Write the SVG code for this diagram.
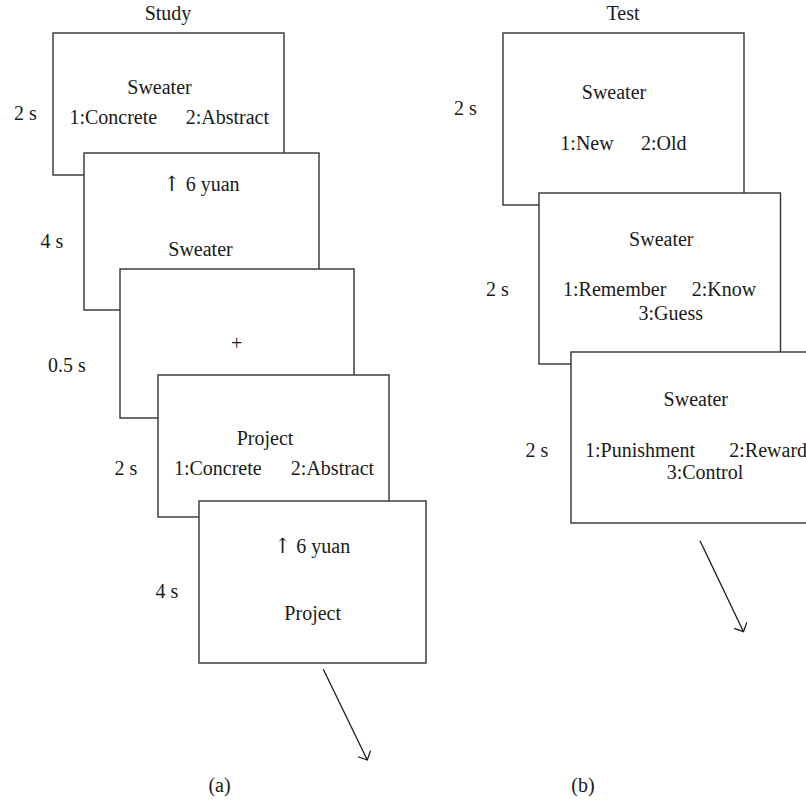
<svg xmlns="http://www.w3.org/2000/svg" width="806" height="801" viewBox="0 0 806 801">
<defs>
<style>
text{font-family:"Liberation Serif","Times New Roman",serif;font-size:20px;fill:#1a1a1a;text-anchor:middle}
.s{text-anchor:start}
.up{font-family:"DejaVu Serif","DejaVu Sans",serif;font-size:21px}
.box{fill:#fff;stroke:#333;stroke-width:1.4}
.arr{fill:none;stroke:#1a1a1a;stroke-width:1.3}
</style>
<marker id="open" markerUnits="userSpaceOnUse" markerWidth="20" markerHeight="20" refX="0" refY="0" viewBox="-10 -10 20 20" orient="auto">
<path d="M-7,-7 L0,0 L-7,7" fill="none" stroke="#1a1a1a" stroke-width="1.3"/>
</marker>
</defs>
<rect width="806" height="801" fill="#fff"/>
<g id="study">
<text x="168" y="20">Study</text>
<g id="s1">
<rect class="box" x="53" y="33" width="231" height="142"/>
<text x="159.5" y="94">Sweater</text>
<text x="113.3" y="124">1:Concrete</text>
<text x="227.3" y="124">2:Abstract</text>
<text x="25.3" y="120">2 s</text>
</g>
<g id="s2">
<rect class="box" x="84" y="153" width="235" height="157"/>
<text x="201.3" y="191"><tspan class="up">↑</tspan> 6 yuan</text>
<text x="200.5" y="256">Sweater</text>
<text x="52" y="248">4 s</text>
</g>
<g id="s3">
<rect class="box" x="120" y="269" width="234" height="149"/>
<text x="236.7" y="350">+</text>
<text x="67" y="372">0.5 s</text>
</g>
<g id="s4">
<rect class="box" x="158" y="375" width="231" height="142"/>
<text x="265" y="445">Project</text>
<text x="217.8" y="475">1:Concrete</text>
<text x="332.5" y="475">2:Abstract</text>
<text x="126" y="475">2 s</text>
</g>
<g id="s5">
<rect class="box" x="199" y="501" width="227" height="162"/>
<text x="312" y="553"><tspan class="up">↑</tspan> 6 yuan</text>
<text x="312.7" y="620">Project</text>
<text x="167" y="598">4 s</text>
</g>
<text x="219.5" y="792">(a)</text>
</g>
<g id="test">
<text x="623" y="20">Test</text>
<g id="t1">
<rect class="box" x="503" y="33" width="241" height="172"/>
<text x="614" y="99">Sweater</text>
<text x="587" y="150">1:New</text>
<text x="663.7" y="150">2:Old</text>
<text x="465.3" y="115">2 s</text>
</g>
<g id="t2">
<rect class="box" x="539" y="193" width="241.5" height="171"/>
<text x="661.3" y="246">Sweater</text>
<text x="614.7" y="296">1:Remember</text>
<text x="724" y="296">2:Know</text>
<text x="670.8" y="320">3:Guess</text>
<text x="497.5" y="296">2 s</text>
</g>
<g id="t3">
<rect class="box" x="571" y="352" width="250" height="171"/>
<text x="695.8" y="406">Sweater</text>
<text x="640" y="457">1:Punishment</text>
<text class="s" x="729.3" y="457">2:Reward</text>
<text x="705" y="479">3:Control</text>
<text x="537" y="457">2 s</text>
</g>
<text x="583" y="792">(b)</text>
</g>
<g id="connectors">
<line class="arr" x1="323.3" y1="669.3" x2="367.3" y2="760" marker-end="url(#open)"/>
<line class="arr" x1="700" y1="540.7" x2="743.5" y2="631.7" marker-end="url(#open)"/>
</g>
</svg>
